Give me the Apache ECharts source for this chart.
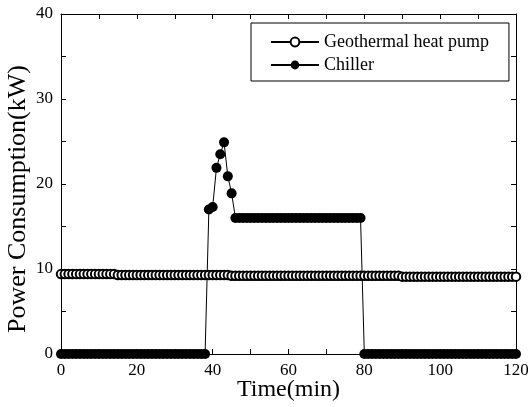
<!DOCTYPE html>
<html>
<head>
<meta charset="utf-8">
<script src="https://cdn.jsdelivr.net/npm/echarts@6/dist/echarts.min.js"></script>
<style>
  html, body { margin: 0; padding: 0; background: #fff; }
  #main { width: 528px; height: 407px; }
</style>
</head>
<body>
<div id="main"></div>
<script>
// time in minutes
const time = [
  0, 1, 2, 3, 4, 5, 6, 7, 8, 9,
  10, 11, 12, 13, 14, 15, 16, 17, 18, 19,
  20, 21, 22, 23, 24, 25, 26, 27, 28, 29,
  30, 31, 32, 33, 34, 35, 36, 37, 38, 39,
  40, 41, 42, 43, 44, 45, 46, 47, 48, 49,
  50, 51, 52, 53, 54, 55, 56, 57, 58, 59,
  60, 61, 62, 63, 64, 65, 66, 67, 68, 69,
  70, 71, 72, 73, 74, 75, 76, 77, 78, 79,
  80, 81, 82, 83, 84, 85, 86, 87, 88, 89,
  90, 91, 92, 93, 94, 95, 96, 97, 98, 99,
  100, 101, 102, 103, 104, 105, 106, 107, 108, 109,
  110, 111, 112, 113, 114, 115, 116, 117, 118, 119,
  120
]

// power consumption (kW)
const geothermal = [
  9.4, 9.4, 9.4, 9.4, 9.4, 9.4, 9.4, 9.4, 9.4, 9.4,
  9.4, 9.4, 9.4, 9.4, 9.4, 9.3, 9.3, 9.3, 9.3, 9.3,
  9.3, 9.3, 9.3, 9.3, 9.3, 9.3, 9.3, 9.3, 9.3, 9.3,
  9.3, 9.3, 9.3, 9.3, 9.3, 9.3, 9.3, 9.3, 9.3, 9.3,
  9.3, 9.3, 9.3, 9.3, 9.3, 9.2, 9.2, 9.2, 9.2, 9.2,
  9.2, 9.2, 9.2, 9.2, 9.2, 9.2, 9.2, 9.2, 9.2, 9.2,
  9.2, 9.2, 9.2, 9.2, 9.2, 9.2, 9.2, 9.2, 9.2, 9.2,
  9.2, 9.2, 9.2, 9.2, 9.2, 9.2, 9.2, 9.2, 9.2, 9.2,
  9.2, 9.2, 9.2, 9.2, 9.2, 9.2, 9.2, 9.2, 9.2, 9.2,
  9.1, 9.1, 9.1, 9.1, 9.1, 9.1, 9.1, 9.1, 9.1, 9.1,
  9.1, 9.1, 9.1, 9.1, 9.1, 9.1, 9.1, 9.1, 9.1, 9.1,
  9.1, 9.1, 9.1, 9.1, 9.1, 9.1, 9.1, 9.1, 9.1, 9.1,
  9.1
]
const chiller = [
  0, 0, 0, 0, 0, 0, 0, 0, 0, 0,
  0, 0, 0, 0, 0, 0, 0, 0, 0, 0,
  0, 0, 0, 0, 0, 0, 0, 0, 0, 0,
  0, 0, 0, 0, 0, 0, 0, 0, 0, 17.0,
  17.3, 21.9, 23.5, 24.9, 20.9, 18.9, 16.0, 16.0, 16.0, 16.0,
  16.0, 16.0, 16.0, 16.0, 16.0, 16.0, 16.0, 16.0, 16.0, 16.0,
  16.0, 16.0, 16.0, 16.0, 16.0, 16.0, 16.0, 16.0, 16.0, 16.0,
  16.0, 16.0, 16.0, 16.0, 16.0, 16.0, 16.0, 16.0, 16.0, 16.0,
  0, 0, 0, 0, 0, 0, 0, 0, 0, 0,
  0, 0, 0, 0, 0, 0, 0, 0, 0, 0,
  0, 0, 0, 0, 0, 0, 0, 0, 0, 0,
  0, 0, 0, 0, 0, 0, 0, 0, 0, 0,
  0
]

const font = 'Liberation Serif'
const black = '#000'

const tickStyle = {show: true, inside: true, length: 5, lineStyle: {color: black, width: 1}}
const minorStyle = {show: true, splitNumber: 2, length: 5, lineStyle: {color: black, width: 1}}
const lineStyle = {show: true, onZero: false, lineStyle: {color: black, width: 1}}

const chart = echarts.init(document.getElementById('main'))

const option = {
  animation: false,
  backgroundColor: '#fff',
  grid: {left: 61, right: 12, top: 14, bottom: 53, containLabel: false, outerBoundsMode: 'none'},
  legend: {
    orient: 'vertical',
    left: 251,
    top: 23,
    padding: [10, 20, 7, 19],
    itemGap: 5,
    itemWidth: 48,
    itemHeight: 11,
    borderColor: black,
    borderWidth: 1,
    textStyle: {fontFamily: font, fontSize: 18, color: black},
    data: ['Geothermal heat pump', 'Chiller']
  },
  xAxis: [
    {
      type: 'value',
      min: 0,
      max: 120,
      interval: 20,
      name: 'Time(min)',
      nameLocation: 'middle',
      nameGap: 24,
      nameMoveOverlap: false,
      nameTextStyle: {fontFamily: font, fontSize: 24, color: black},
      axisLine: lineStyle,
      axisTick: tickStyle,
      minorTick: minorStyle,
      splitLine: {show: false},
      axisLabel: {fontFamily: font, fontSize: 17, color: black, margin: 8}
    },
    {
      type: 'value',
      position: 'top',
      min: 0,
      max: 120,
      interval: 20,
      axisLine: lineStyle,
      axisTick: tickStyle,
      minorTick: minorStyle,
      splitLine: {show: false},
      axisLabel: {show: false}
    }
  ],
  yAxis: [
    {
      type: 'value',
      min: 0,
      max: 40,
      interval: 10,
      name: 'Power Consumption(kW)',
      nameLocation: 'middle',
      nameGap: 30,
      nameMoveOverlap: false,
      nameTextStyle: {fontFamily: font, fontSize: 26, color: black, padding: [0, 30, 0, 0]},
      axisLine: lineStyle,
      axisTick: tickStyle,
      minorTick: minorStyle,
      splitLine: {show: false},
      axisLabel: {fontFamily: font, fontSize: 17, color: black, margin: 8}
    },
    {
      type: 'value',
      position: 'right',
      min: 0,
      max: 40,
      interval: 10,
      axisLine: lineStyle,
      axisTick: tickStyle,
      minorTick: minorStyle,
      splitLine: {show: false},
      axisLabel: {show: false}
    }
  ],
  series: [
    {
      name: 'Geothermal heat pump',
      type: 'line',
      data: time.map((t, i) => [t, geothermal[i]]),
      symbol: 'emptyCircle',
      symbolSize: 8.5,
      itemStyle: {color: black, borderColor: black, borderWidth: 2},
      lineStyle: {color: black, width: 1}
    },
    {
      name: 'Chiller',
      type: 'line',
      data: time.map((t, i) => [t, chiller[i]]),
      symbol: 'circle',
      symbolSize: 10,
      itemStyle: {color: black},
      lineStyle: {color: black, width: 1}
    }
  ]
}

chart.setOption(option)
</script>
</body>
</html>
